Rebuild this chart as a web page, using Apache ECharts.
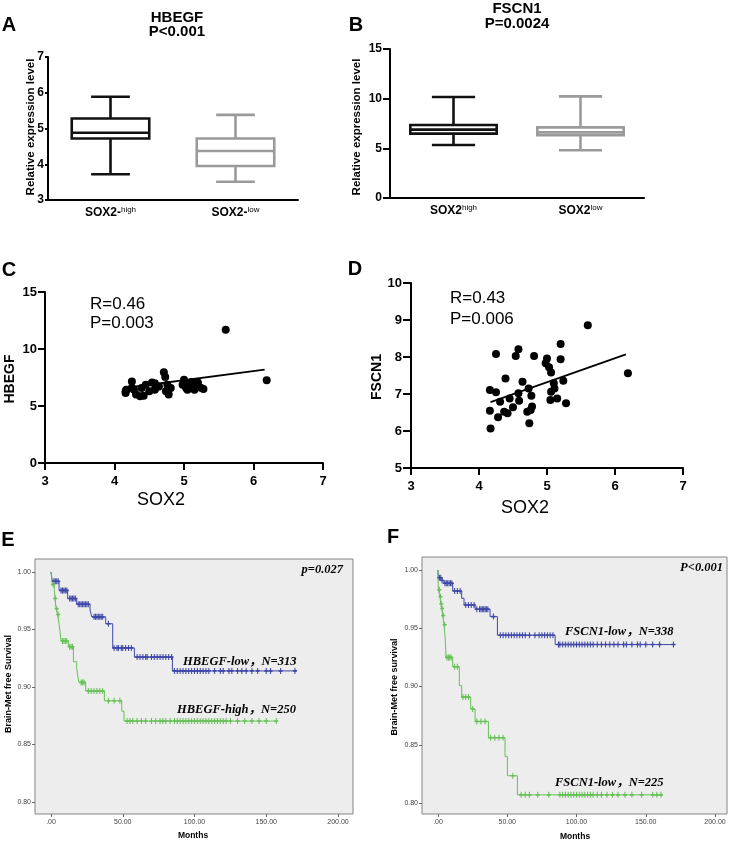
<!DOCTYPE html>
<html><head><meta charset="utf-8">
<script src="https://cdn.jsdelivr.net/npm/echarts@6/dist/echarts.min.js"></script>
<style>html,body{margin:0;padding:0;background:#fff}#c{width:733px;height:843px}</style>
</head><body><div id="c"></div>
<script>
// ---------- DATA ----------
const boxCatsA = ['SOX2-|high', 'SOX2-|low'];
const boxA = [[0, 3.72, 4.72, 4.88, 5.28, 5.89], [1, 3.51, 3.95, 4.37, 4.72, 5.38]];
const boxCatsB = ['SOX2|high', 'SOX2|low'];
const boxB = [[0, 5.34, 6.48, 6.88, 7.35, 10.17], [1, 4.8, 6.31, 6.61, 7.11, 10.23]];

const sox2  = [4.17,4.16,4.16,4.25,4.25,4.28,4.31,4.37,4.39,4.42,4.45,4.50,4.54,4.58,4.58,4.59,4.64,4.71,4.73,4.74,4.76,4.77,4.78,4.81,4.98,5.00,5.03,5.06,5.05,5.06,5.10,5.11,5.15,5.20,5.20,5.24,5.28,5.60,6.19];
const hbegf = [6.43,6.14,6.30,7.16,6.60,6.43,6.00,5.85,6.58,5.90,6.87,6.29,7.06,6.43,7.00,6.60,6.72,7.95,7.55,6.29,6.87,6.43,6.00,6.58,6.87,7.31,6.58,7.02,6.43,6.90,6.60,7.10,6.43,6.87,7.06,6.60,6.49,11.68,7.25];
const fscn1 = [6.07,6.55,7.11,8.08,7.05,6.37,6.79,6.52,7.42,6.48,6.88,6.64,8.03,8.21,7.02,6.82,7.33,6.52,7.15,6.21,6.57,6.95,6.66,8.03,7.83,7.96,7.72,7.58,6.84,7.06,7.29,7.15,6.88,8.35,7.94,7.36,6.75,8.86,7.56];
const fitCx = [4.17, 6.16], fitCy = [6.6, 8.2];
const fitDx = [4.17, 6.16], fitDy = [6.78, 8.07];

// Kaplan-Meier steps [time, survival]
const kmELow = [[0,1],[0.9,0.992],[5.6,0.984],[11.6,0.977],[17.9,0.972],[27.2,0.967],[28.4,0.961],[38.1,0.955],[43,0.934],[58.1,0.926],[84.6,0.914],[171,0.914]];
const kmELowCens = [2,3,4,5,7,8,9,10,11,13,14,15,16,17,19,20,21,22,23,24,25,26,30,31,32,33,34,35,36,40,44,46,47,49,50,52,54,56,60,62,64,66,67,70,72,74,76,78,80,82,84,86,88,90,92,94,96,98,100,102,104,106,108,110,114,118,120,124,126,130,133,136,140,144,150,153,160,170];
const kmEHigh = [[0,1],[0.9,0.989],[2.3,0.984],[2.8,0.977],[3.5,0.968],[4.6,0.963],[5.6,0.955],[6.3,0.948],[7.0,0.94],[12.1,0.935],[15.6,0.922],[17.9,0.916],[18.6,0.91],[19.5,0.904],[24.2,0.8965],[37.2,0.888],[49.3,0.879],[50.9,0.8704],[157,0.8704]];
const kmEHighCens = [1.5,3,4,5,8,9,10,11,13,14,15,21,22,23,26,28,30,32,34,36,40,44,48,53,55,57,60,63,66,70,73,76,78,80,83,86,88,90,92,94,96,98,100,102,104,106,108,110,112,114,116,118,120,122,125,130,135,140,145,150,157];
const kmFLow = [[0,1],[0.2,0.9934],[2.7,0.991],[4.3,0.9886],[10.6,0.982],[17.1,0.9757],[18.8,0.97],[26.8,0.9663],[37.6,0.96],[42.9,0.944],[84.6,0.936],[171.4,0.936]];
const kmFLowCens = [1,2,3,5,6,7,8,9,10,12,14,16,20,22,24,26,28,30,31,32,33,34,35,36,40,45,47,49,51,53,55,57,59,61,63,66,70,73,75,77,79,81,83,87,88,90,92,94,96,98,100,102,104,106,108,110,112,115,118,121,124,127,130,134,136,140,144,146,150,155,160,170];
const kmFHigh = [[0,1],[0.2,0.983],[1.4,0.977],[2,0.971],[2.7,0.967],[3.4,0.961],[4.3,0.953],[5.1,0.943],[5.5,0.934],[5.8,0.925],[10.6,0.917],[15.4,0.9007],[17.1,0.891],[23.6,0.8807],[26.8,0.87],[36.4,0.856],[48.4,0.84],[50.1,0.8234],[57.3,0.807],[161.7,0.807]];
const kmFHighCens = [1,1.8,2.4,3,3.8,4.8,6.5,7.5,8.5,9.5,12,14,18,20,22,25,28,31,34,38,41,44,47,54,60,63,66,72,80,88,90,92,94,96,98,100,102,104,106,108,110,112,115,118,122,126,130,135,140,147,155,158,161];

const xTicksKM = [0, 50, 100, 150, 200];
const yTicksKM = [0.80, 0.85, 0.90, 0.95, 1.00];

// ---------- HELPERS ----------
const SANS = '"Liberation Sans", Arial, sans-serif';
const SERIF = '"Liberation Serif", "Times New Roman", "Noto Sans CJK SC", serif';
const BLUE = '#3f48a6', GREEN = '#66c057';
const boxColors = ['#111111', '#9a9a9a'];

function survAt(steps, t) { let s = steps[0][1]; for (const [ti, si] of steps) { if (ti <= t) s = si; } return s; }
function censPoints(steps, cens) { return cens.map(t => [t, survAt(steps, t)]); }

function boxRender(ratio) {
  return function (params, api) {
    const cat = api.value(0);
    const mn = api.coord([cat, api.value(1)]);
    const q1 = api.coord([cat, api.value(2)]);
    const md = api.coord([cat, api.value(3)]);
    const q3 = api.coord([cat, api.value(4)]);
    const mx = api.coord([cat, api.value(5)]);
    const band = api.size([1, 0])[0];
    const w = band * ratio, cw = w / 2, x = md[0];
    const col = boxColors[params.dataIndex];
    const st = { stroke: col, lineWidth: 2.6, fill: null };
    return { type: 'group', children: [
      { type: 'line', shape: { x1: x, y1: q3[1], x2: x, y2: mx[1] }, style: st },
      { type: 'line', shape: { x1: x, y1: q1[1], x2: x, y2: mn[1] }, style: st },
      { type: 'line', shape: { x1: x - cw / 2, y1: mx[1], x2: x + cw / 2, y2: mx[1] }, style: st },
      { type: 'line', shape: { x1: x - cw / 2, y1: mn[1], x2: x + cw / 2, y2: mn[1] }, style: st },
      { type: 'rect', shape: { x: x - w / 2, y: q3[1], width: w, height: q1[1] - q3[1] }, style: { stroke: col, lineWidth: 2.6, fill: '#fff' } },
      { type: 'line', shape: { x1: x - w / 2, y1: md[1], x2: x + w / 2, y2: md[1] }, style: st }
    ]};
  };
}

const axBlack = { show: true, onZero: false, lineStyle: { color: '#000', width: 2 } };
function catLabel() {
  return {
    interval: 0, margin: 6,
    formatter: v => { const p = v.split('|'); return '{b|' + p[0] + '}{s|' + p[1] + '}'; },
    rich: {
      b: { fontFamily: SANS, fontWeight: 'bold', fontSize: 12, color: '#000', lineHeight: 14 },
      s: { fontFamily: SANS, fontSize: 8, color: '#000', verticalAlign: 'top', lineHeight: 14, padding: [0, 0, 6, 0] }
    }
  };
}
const boldTick = (size, margin) => ({ fontFamily: SANS, fontWeight: 'bold', fontSize: size, color: '#000', margin: margin });
const blackTick = len => ({ show: true, length: len, lineStyle: { width: 2, color: '#000' } });

const grids = [
  { left: 48, top: 57, width: 250, height: 143 },      // A
  { left: 390, top: 49, width: 254, height: 149 },     // B
  { left: 45, top: 292, width: 278, height: 171 },     // C
  { left: 411, top: 283, width: 272, height: 185 },    // D
  { left: 35, top: 559, width: 318, height: 255, show: true, backgroundColor: '#ededed', borderColor: '#858585', borderWidth: 1 }, // E
  { left: 422, top: 557, width: 305, height: 257, show: true, backgroundColor: '#ededed', borderColor: '#858585', borderWidth: 1 }  // F
].map(g => Object.assign({ outerBoundsMode: 'none', containLabel: false }, g));

const kmX = (gi, mn, mx) => ({ gridIndex: gi, type: 'value', min: mn, max: mx,
  axisLine: { show: false, onZero: false }, splitLine: { show: false },
  axisTick: { show: true, length: 3, customValues: xTicksKM, lineStyle: { color: '#666' } },
  axisLabel: { customValues: xTicksKM, fontFamily: SANS, fontSize: 7, color: '#444', margin: 5, formatter: v => v === 0 ? '.00' : v.toFixed(2) } });
const kmY = (gi, mn, mx) => ({ gridIndex: gi, type: 'value', min: mn, max: mx,
  axisLine: { show: false, onZero: false }, splitLine: { show: false },
  axisTick: { show: true, length: 3, customValues: yTicksKM, lineStyle: { color: '#666' } },
  axisLabel: { customValues: yTicksKM, fontFamily: SANS, fontSize: 7, color: '#444', margin: 4, formatter: v => v.toFixed(2) } });

const xAxes = [
  { gridIndex: 0, type: 'category', data: boxCatsA, axisLine: axBlack, axisTick: { show: false }, axisLabel: catLabel() },
  { gridIndex: 1, type: 'category', data: boxCatsB, axisLine: axBlack, axisTick: { show: false }, axisLabel: catLabel() },
  { gridIndex: 2, type: 'value', min: 3, max: 7, interval: 1, axisLine: axBlack, axisTick: blackTick(7), splitLine: { show: false }, axisLabel: boldTick(13, 12) },
  { gridIndex: 3, type: 'value', min: 3, max: 7, interval: 1, axisLine: axBlack, axisTick: blackTick(7), splitLine: { show: false }, axisLabel: boldTick(13, 12) },
  kmX(4, -11.15, 210.45),
  kmX(5, -11.55, 208.66)
];
const yAxes = [
  { gridIndex: 0, type: 'value', min: 3, max: 7, interval: 1, axisLine: axBlack, axisTick: blackTick(3), splitLine: { show: false }, axisLabel: boldTick(12, 4) },
  { gridIndex: 1, type: 'value', min: 0, max: 15, interval: 5, axisLine: axBlack, axisTick: blackTick(7), splitLine: { show: false }, axisLabel: boldTick(12, 8) },
  { gridIndex: 2, type: 'value', min: 0, max: 15, interval: 5, axisLine: axBlack, axisTick: blackTick(7), splitLine: { show: false }, axisLabel: boldTick(13, 8) },
  { gridIndex: 3, type: 'value', min: 5, max: 10, interval: 1, axisLine: axBlack, axisTick: blackTick(8), splitLine: { show: false }, axisLabel: boldTick(13, 9) },
  kmY(4, 0.7896, 1.0113),
  kmY(5, 0.79056, 1.01116)
];

const plusSym = 'path://M3,0L3,7M0,3.5L6,3.5';
function kmSeries(gi, steps, cens, color) {
  return [
    { type: 'line', xAxisIndex: gi, yAxisIndex: gi, step: 'end', showSymbol: false, data: steps,
      lineStyle: { color: color, width: 1 }, itemStyle: { color: color }, z: 3 },
    { type: 'scatter', xAxisIndex: gi, yAxisIndex: gi, data: censPoints(steps, cens), symbol: plusSym, symbolSize: [4, 6],
      itemStyle: { color: 'rgba(0,0,0,0)', borderColor: color, borderWidth: 1.3, opacity: 1 }, z: 4 }
  ];
}

const series = [
  { type: 'custom', xAxisIndex: 0, yAxisIndex: 0, renderItem: boxRender(0.62), data: boxA },
  { type: 'custom', xAxisIndex: 1, yAxisIndex: 1, renderItem: boxRender(0.68), data: boxB },
  { type: 'line', xAxisIndex: 2, yAxisIndex: 2, data: fitCx.map((x, i) => [x, fitCy[i]]), showSymbol: false, lineStyle: { color: '#000', width: 1.8 }, z: 2 },
  { type: 'scatter', xAxisIndex: 2, yAxisIndex: 2, data: sox2.map((x, i) => [x, hbegf[i]]), symbolSize: 8, itemStyle: { color: '#000', opacity: 1 }, z: 3 },
  { type: 'line', xAxisIndex: 3, yAxisIndex: 3, data: fitDx.map((x, i) => [x, fitDy[i]]), showSymbol: false, lineStyle: { color: '#000', width: 1.8 }, z: 2 },
  { type: 'scatter', xAxisIndex: 3, yAxisIndex: 3, data: sox2.map((x, i) => [x, fscn1[i]]), symbolSize: 8, itemStyle: { color: '#000', opacity: 1 }, z: 3 },
  ...kmSeries(4, kmELow, kmELowCens, BLUE),
  ...kmSeries(4, kmEHigh, kmEHighCens, GREEN),
  ...kmSeries(5, kmFLow, kmFLowCens, BLUE),
  ...kmSeries(5, kmFHigh, kmFHighCens, GREEN)
];

function txt(text, x, y, font, opts) {
  return Object.assign({ type: 'text', x: x, y: y, z: 100,
    style: Object.assign({ text: text, font: font, fill: '#000', textAlign: 'center', textVerticalAlign: 'middle' }, (opts && opts.style) || {}) },
    (opts && opts.rot) ? { rotation: Math.PI / 2 } : {});
}
const letterFont = 'bold 20px ' + SANS;
const titleFont = 'bold 15px ' + SANS;
const ylabFont = 'bold 11.5px ' + SANS;
const rpFont = '17px ' + SANS;
const kmTxtFont = 'italic bold 12.5px ' + SERIF;
const graphics = [
  txt('A', 9, 25, letterFont), txt('B', 356, 25, letterFont), txt('C', 9, 270, letterFont),
  txt('D', 355, 269, letterFont), txt('E', 8, 540, letterFont), txt('F', 393, 537, letterFont),
  txt('HBEGF', 177, 18, titleFont), txt('P<0.001', 177, 32, titleFont),
  txt('FSCN1', 517, 9, titleFont), txt('P=0.0024', 517, 24, titleFont),
  txt('Relative expression level', 31, 127, ylabFont, { rot: true }),
  txt('Relative expression level', 357, 127, ylabFont, { rot: true }),
  txt('HBEGF', 10, 379, 'bold 14px ' + SANS, { rot: true }),
  txt('FSCN1', 377, 377, 'bold 14px ' + SANS, { rot: true }),
  txt('SOX2', 161, 500, '18px ' + SANS), txt('SOX2', 525, 508, '18px ' + SANS),
  txt('R=0.46', 90, 304, rpFont, { style: { textAlign: 'left' } }),
  txt('P=0.003', 90, 323, rpFont, { style: { textAlign: 'left' } }),
  txt('R=0.43', 450, 298, rpFont, { style: { textAlign: 'left' } }),
  txt('P=0.006', 450, 319, rpFont, { style: { textAlign: 'left' } }),
  txt('p=0.027', 343, 570, kmTxtFont, { style: { textAlign: 'right' } }),
  txt('HBEGF-low，N=313', 183, 662, kmTxtFont, { style: { textAlign: 'left' } }),
  txt('HBEGF-high，N=250', 177, 710, kmTxtFont, { style: { textAlign: 'left' } }),
  txt('P<0.001', 723, 568, kmTxtFont, { style: { textAlign: 'right' } }),
  txt('FSCN1-low，N=338', 565, 632, kmTxtFont, { style: { textAlign: 'left' } }),
  txt('FSCN1-low，N=225', 555, 783, kmTxtFont, { style: { textAlign: 'left' } }),
  txt('Brain-Met free Survival', 9, 684, 'bold 9px ' + SANS, { rot: true }),
  txt('Brain-Met free survival', 395, 687, 'bold 9px ' + SANS, { rot: true }),
  txt('Months', 193, 836, 'bold 8.5px ' + SANS), txt('Months', 575, 837, 'bold 8.5px ' + SANS)
];

const chart = echarts.init(document.getElementById('c'), null, { renderer: 'canvas' });
chart.setOption({
  animation: false,
  backgroundColor: '#ffffff',
  grid: grids, xAxis: xAxes, yAxis: yAxes, series: series, graphic: graphics
});
</script></body></html>
